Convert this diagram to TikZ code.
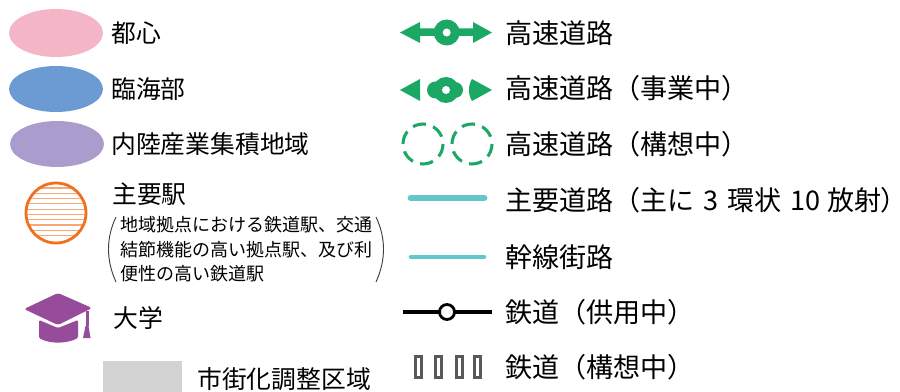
\documentclass[tikz,border=0pt]{standalone}
\usepackage{fontspec}
\setmainfont{Noto Sans CJK JP}
\definecolor{roadgreen}{HTML}{1BA864}
\definecolor{roadblue}{HTML}{62C6CB}
\definecolor{hatpurple}{HTML}{964C9B}
\definecolor{stn}{HTML}{F0701E}
\definecolor{zpink}{HTML}{F4B6C6}
\definecolor{zblue}{HTML}{6C9BD4}
\definecolor{zpurple}{HTML}{AA9CCD}
\definecolor{zgrey}{HTML}{D2D2D2}
\begin{document}
\begin{tikzpicture}[x=0.75pt,y=-0.75pt,
  lab/.style={anchor=west,inner sep=0pt,font=\fontsize{20.3pt}{24pt}\selectfont},
  labl/.style={anchor=west,inner sep=0pt,font=\fontsize{18.6pt}{24pt}\selectfont},
  labs/.style={anchor=west,inner sep=0pt,font=\fontsize{13.5pt}{17pt}\selectfont},
  dashring/.style={draw=roadgreen,line width=2.3pt,dash pattern=on 10pt off 5.7pt},
  mainroad/.style={draw=roadblue,line width=5.2pt,line cap=round},
  subroad/.style={draw=roadblue,line width=3.4pt,line cap=round}]
\useasboundingbox (0,0) rectangle (900,392);
% zones
\fill[zpink] (56,33) ellipse (47 and 24);
\fill[zblue] (56,89) ellipse (47 and 23);
\fill[zpurple] (57,144) ellipse (47 and 23);
% station
\begin{scope}
\clip (56,213) circle (30);
\foreach \y in {188,193.3,...,240}{\draw[stn!60,line width=0.9pt] (20,\y) -- (95,\y);}
\end{scope}
\draw[stn,line width=2.1pt] (56,213) circle (30);
% hat
\fill[hatpurple,rounded corners=1pt] (39,320) -- (58,328) -- (78,320) -- (78,338) .. controls (66,344) and (50,344) .. (39,338) -- cycle;
\fill[hatpurple,rounded corners=2pt] (24,309) -- (58,293) -- (92,308) -- (58,325) -- cycle;
\fill[hatpurple] (85.5,311) rectangle (88.5,326);
\fill[hatpurple] (85.5,326) -- (88.5,326) -- (90.5,338) -- (83,338) -- cycle;
% grey box
\fill[zgrey] (103,361) rectangle (182,392);
% expressway
\fill[roadgreen] (400,32.5) -- (420,22) -- (420,28.5) -- (473,28.5) -- (473,22) -- (492,32.5) -- (473,43) -- (473,36) -- (420,36) -- (420,43) -- cycle;
\fill[roadgreen] (446.7,32.5) circle (13);
\fill[white] (446.7,32.5) circle (4);
% under construction
\fill[roadgreen] (400,90) -- (420,79) -- (420,101) -- cycle;
\fill[roadgreen] (492,90) -- (472,79) .. controls (468,85) and (468,95) .. (472,101) -- cycle;
\fill[roadgreen] (446,90) circle (13);
\fill[roadgreen] (435.5,90) circle (8.5);
\fill[roadgreen] (455,90) circle (8);
\fill[white] (446,90) circle (4);
% planned
\draw[dashring] (423,144) circle (20);
\draw[dashring] (472,144) circle (20);
% roads
\draw[mainroad] (411,198) -- (484,198);
\draw[subroad] (411,257) -- (484,257);
% railway
\draw[black,line width=2.5pt] (403,312) -- (492,312);
\draw[black,line width=2.1pt,fill=white] (447,312) circle (7.5);
% planned rail
\foreach \x in {418.5,438.5,459.5,477.5}{\draw[black!65,line width=1.9pt] (\x-3.2,356.5) rectangle (\x+3.2,377.5);}
% text
\node[labl] (t1) at (111,33) {都心};
\node[labl] (t2) at (111,89) {臨海部};
\node[labl] (t3) at (111,144) {内陸産業集積地域};
\node[labl] (t4) at (112,194) {主要駅};
\node[labs] (s1) at (120,225) {地域拠点における鉄道駅、交通};
\node[labs] (s2) at (120,250) {結節機能の高い拠点駅、及び利};
\node[labs] (s3) at (120,274) {便性の高い鉄道駅};
\node[labl] (t5) at (113,318) {大学};
\node[labl] (t6) at (197,379) {市街化調整区域};
\node[lab] (r1) at (505,33) {高速道路};
\node[lab] (r2) at (505,88) {高速道路（事業中）};
\node[lab] (r3) at (505,144) {高速道路（構想中）};
\node[lab] (r4) at (505,200) {主要道路（主に\hspace{2pt} 3 \hspace{2pt}環状\hspace{2pt} 10 \hspace{1pt}放射{\addfontfeatures{RawFeature=+palt}）}};
\node[lab] (r5) at (505,257) {幹線街路};
\node[lab] (r6) at (505,312) {鉄道（供用中）};
\node[lab] (r7) at (505,367) {鉄道（構想中）};
% brackets
\draw[black!75,line width=0.7pt] (116,217) .. controls (106,238) and (106,260) .. (116,282);
\draw[black!75,line width=0.7pt] (376,217) .. controls (386,238) and (386,260) .. (376,282);
\end{tikzpicture}
\end{document}
